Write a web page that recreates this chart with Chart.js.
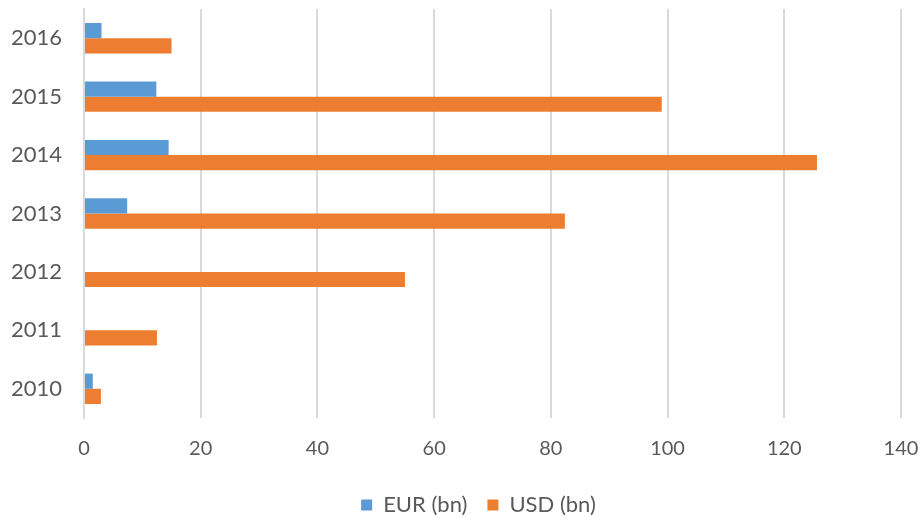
<!DOCTYPE html>
<html>
<head>
<meta charset="utf-8">
<script src="https://cdn.jsdelivr.net/npm/chart.js@4"></script>
<style>
  html, body { margin: 0; padding: 0; background: #fff; }
  #wrap { width: 922px; height: 518px; }
</style>
</head>
<body>
<div id="wrap"><canvas id="bonds" width="922" height="518"></canvas></div>
<script>
// ======================================
// DATA (top row first)
// ======================================
const years = ["2016", "2015", "2014", "2013", "2012", "2011", "2010"];
const eurBn = [3.0, 12.4, 14.5, 7.4, 0, 0, 1.5];
const usdBn = [15.0, 99.0, 125.6, 82.4, 55.0, 12.5, 2.9];
const xTicks = [0, 20, 40, 60, 80, 100, 120, 140];

const textGrey = "#595959";
const gridGrey = "#d9d9d9";
const font = "Lato, 'Open Sans', sans-serif";

// legend sits centred under the plot area, not the whole canvas
const legendShift = {
    id: "legendShift",
    afterLayout(chart) {
        chart.legend.left += 28;
        chart.legend.right += 28;
    }
};

// ======================================
// CHART
// ======================================
new Chart(document.getElementById("bonds"), {
    type: "bar",
    data: {
        labels: years,
        datasets: [
            { label: "EUR (bn)", data: eurBn, backgroundColor: "#5b9bd5" },
            { label: "USD (bn)", data: usdBn, backgroundColor: "#ed7d31" }
        ]
    },
    plugins: [legendShift],
    options: {
        indexAxis: "y",
        responsive: false,
        animation: false,
        layout: { padding: { left: 0, right: 21, top: 9, bottom: -8 } },
        datasets: { bar: { categoryPercentage: 0.52, barPercentage: 1.0 } },
        scales: {
            x: {
                min: xTicks[0],
                max: xTicks[xTicks.length - 1],
                afterBuildTicks: (s) => { s.ticks = xTicks.map(v => ({ value: v })); },
                ticks: { color: textGrey, font: { family: font, size: 20 }, padding: 19 },
                grid: { color: gridGrey, lineWidth: 2, drawTicks: false },
                border: { display: false },
                afterFit: (s) => {
                    s.height = 56;
                    s.paddingLeft = 0;
                    s.paddingRight = 0;
                }
            },
            y: {
                ticks: { color: textGrey, font: { family: font, size: 22 }, padding: 22 },
                grid: { display: false, drawTicks: false },
                border: { display: true, color: gridGrey, width: 2 },
                afterFit: (s) => {
                    s.width = 84;
                    s.paddingTop = 0;
                    s.paddingBottom = 0;
                }
            }
        },
        plugins: {
            tooltip: { enabled: false },
            legend: {
                position: "bottom",
                labels: {
                    color: textGrey,
                    font: { family: font, size: 22 },
                    boxWidth: 11,
                    boxHeight: 11,
                    padding: 20
                }
            }
        }
    }
});
</script>
</body>
</html>
